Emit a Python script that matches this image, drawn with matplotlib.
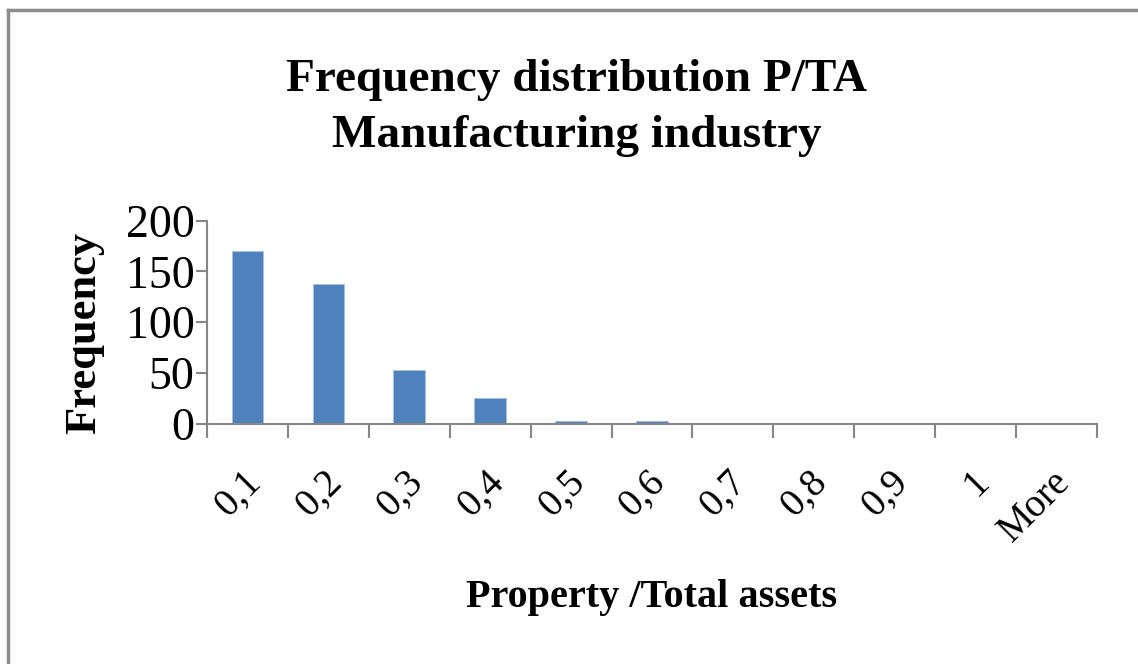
# Frequency distribution P/TA - Manufacturing industry

import matplotlib.pyplot as plt
from matplotlib.lines import Line2D
from matplotlib.transforms import ScaledTranslation

# bins and counts
bins = ["0,1", "0,2", "0,3", "0,4", "0,5", "0,6", "0,7", "0,8", "0,9", "1", "More"]
frequency = [170, 138, 53, 26, 3, 3, 0, 0, 0, 0, 0]
y_ticks = [0, 50, 100, 150, 200]

plt.rcParams['font.family'] = ['Liberation Serif', 'DejaVu Serif']

fig = plt.figure(figsize=(11.38, 6.64), dpi=100)
W, H = 1138, 664

# gray frame (only top and left edges visible)
fig.add_artist(Line2D([8 / W, 8 / W], [0, 1 - 10 / H], transform=fig.transFigure,
                      color="#8c8c8c", lw=2.5))
fig.add_artist(Line2D([8 / W, 1], [1 - 10 / H, 1 - 10 / H], transform=fig.transFigure,
                      color="#8c8c8c", lw=2.5))

ax = fig.add_axes([207 / W, (H - 424) / H, 890 / W, 203.5 / H])

x = list(range(len(bins)))
ax.bar(x, frequency, width=0.39, color="#4f81bd", edgecolor="#a9c1e0", linewidth=0.6)

ax.set_xlim(-0.5, len(bins) - 0.5)
ax.set_ylim(0, 200)

for s in ["top", "right"]:
    ax.spines[s].set_visible(False)
for s in ["left", "bottom"]:
    ax.spines[s].set_color("#868686")
    ax.spines[s].set_linewidth(1.5)

ax.set_yticks(y_ticks)
ax.set_yticklabels([str(v) for v in y_ticks], fontsize=33)
ax.tick_params(axis="y", length=8, width=1.5, color="#868686", pad=1)

# category boundaries as major ticks, labels on minor ticks
ax.set_xticks([i - 0.5 for i in range(len(bins) + 1)])
ax.set_xticklabels([])
ax.tick_params(axis="x", which="major", length=10, width=1.5, color="#868686")
ax.set_xticks(x, minor=True)
ax.set_xticklabels(bins, minor=True, fontsize=28, rotation=45,
                   ha="right", va="center", rotation_mode="anchor")
ax.tick_params(axis="x", which="minor", length=0, pad=38)
shift = ScaledTranslation(8 / 100, 0, fig.dpi_scale_trans)
for lbl in ax.get_xticklabels(minor=True):
    lbl.set_transform(lbl.get_transform() + shift)

fig.text(84 / W, 1 - 333 / H, "Frequency", fontsize=32, fontweight="bold",
         rotation=90, ha="center", va="center")
fig.text(652 / W, 1 - 597 / H, "Property /Total assets", fontsize=29,
         fontweight="bold", ha="center", va="center")

fig.text(577 / W, 1 - 80 / H, "Frequency distribution P/TA", fontsize=34,
         fontweight="bold", ha="center", va="center")
fig.text(577 / W, 1 - 136 / H, "Manufacturing industry", fontsize=34,
         fontweight="bold", ha="center", va="center")

fig.savefig("out.png", dpi=100)
